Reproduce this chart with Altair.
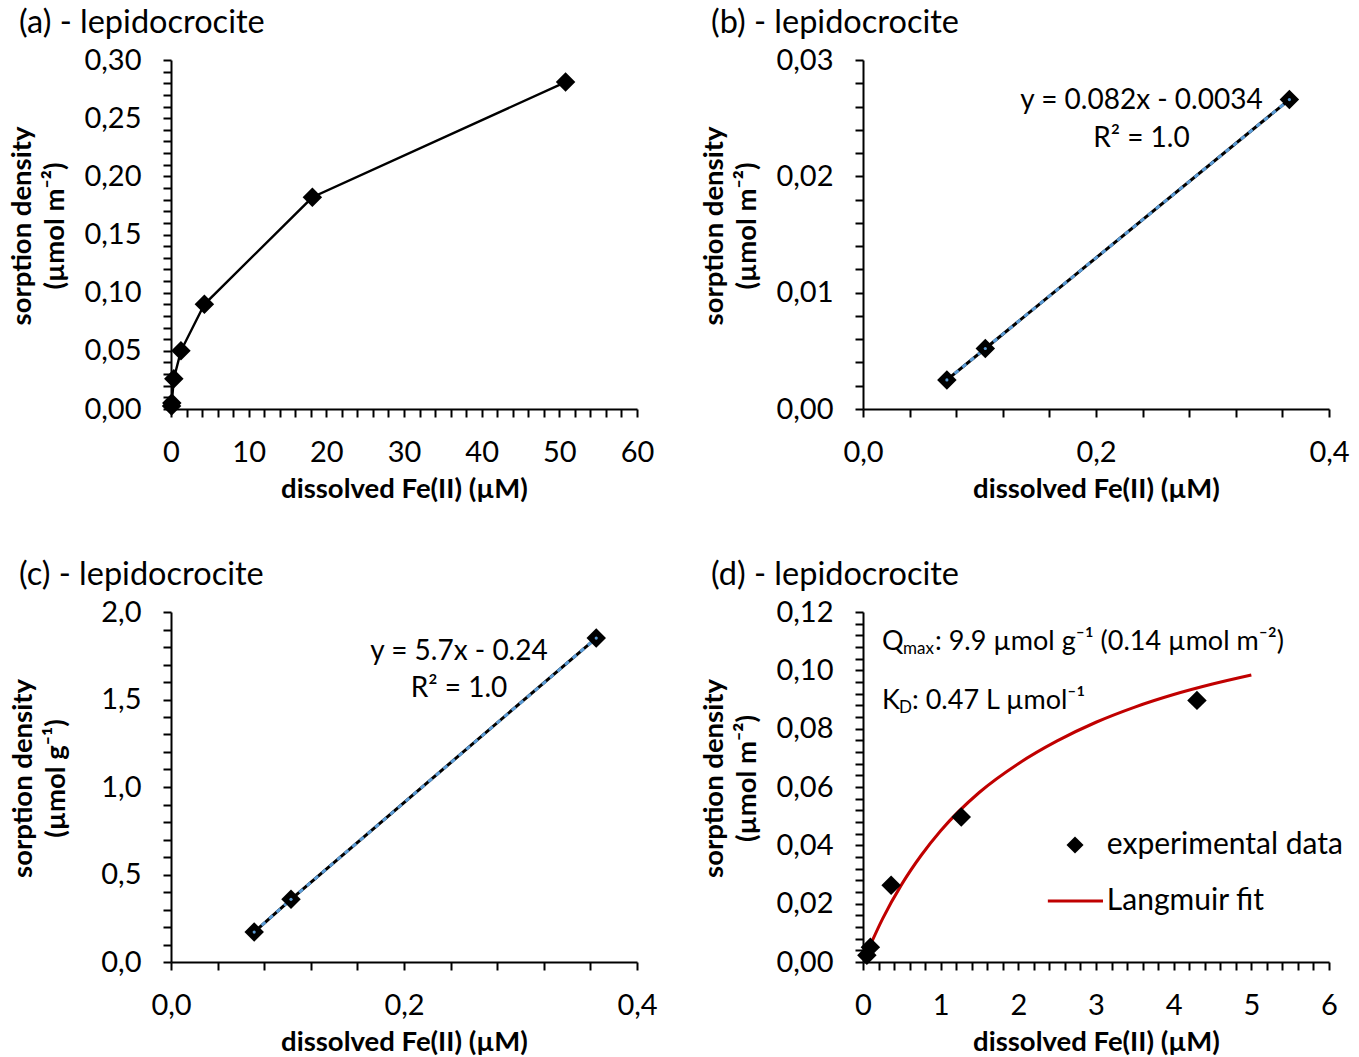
import altair as alt
import pandas as pd

FONT = "Lato"
BLUE = "#5B9BD5"
RED = "#C00000"

# ---------------- data ----------------
# (a) full isotherm, sorption density in umol m-2
a_fe = [0.072, 0.105, 0.36, 1.28, 4.3, 18.2, 50.8]
a_sd = [0.0025, 0.0052, 0.026, 0.050, 0.090, 0.182, 0.281]
# (b) low-concentration linear part, umol m-2
b_fe = [0.072, 0.105, 0.366]
b_sd = [0.0025, 0.0052, 0.0266]
# (c) low-concentration linear part, umol g-1
c_fe = [0.0714, 0.103, 0.365]
c_sd = [0.171, 0.358, 1.851]
# (d) experimental data and Langmuir fit
d_fe = [0.05, 0.095, 0.362, 1.265, 4.30]
d_sd = [0.0023, 0.0051, 0.0263, 0.0497, 0.0897]
fit_fe = [0.072, 0.25, 0.5, 0.75, 1.0, 1.5, 2.0, 2.5, 3.0, 3.5, 4.0, 4.5, 5.0]
fit_sd = [0.0045, 0.0147, 0.0267, 0.0366, 0.0450, 0.0582, 0.0680, 0.0758, 0.0822, 0.0874, 0.0917, 0.0953, 0.0984]

# panel titles and texts
panel_titles = ["(a) - lepidocrocite", "(b) - lepidocrocite", "(c) - lepidocrocite", "(d) - lepidocrocite"]
x_title = "dissolved Fe(II) (µM)"
y_title_m2 = ["sorption density", "(µmol m⁻²)"]
y_title_g = ["sorption density", "(µmol g⁻¹)"]

# regression annotations (text, x, y in data units)
b_eq = ["y = 0.082x - 0.0034", "R² = 1.0"]
b_eq_x = [0.239, 0.239]
b_eq_y = [0.02648, 0.0232]
c_eq = ["y = 5.7x - 0.24", "R² = 1.0"]
c_eq_x = [0.2472, 0.2472]
c_eq_y = [1.771, 1.56]

# Langmuir annotations
q_parts = ["Q", "max", ": 9.9 µmol g⁻¹ (0.14 µmol m⁻²)"]
k_parts = ["K", "D", ": 0.47 L µmol⁻¹"]
ann_x = 0.245
q_y = 0.1097
k_y = 0.0895

# legend of (d)
leg_labels = ["experimental data", "Langmuir fit"]
leg_sym_x = 2.73
leg_line_x = [2.38, 3.09]
leg_text_x = 3.14
leg_y = [0.0401, 0.0209]

# axis tick positions (major labelled, minor unlabelled)
a_xt = [i * 2 for i in range(31)]
a_yt = [round(i * 0.01, 3) for i in range(31)]
bc_xt = [round(i * 0.04, 3) for i in range(11)]
b_yt = [round(i * 0.002, 4) for i in range(16)]
c_yt = [round(i * 0.1, 2) for i in range(21)]
d_xt = [round(i * 0.2, 2) for i in range(31)]
d_yt = [round(i * 0.004, 4) for i in range(31)]

W, H1, H2 = 466, 349, 350


def lab_expr(major, fmt):
    return (f"abs(datum.value/{major} - round(datum.value/{major})) < 0.000001 ? "
            f"replace(format(datum.value, '{fmt}'), '.', ',') : ''")


AX = dict(grid=False, domainColor="black", domainWidth=2, tickColor="black", tickWidth=2,
          tickSize=8, labelFont=FONT, labelFontSize=29, labelColor="black", labelFlush=False,
          labelOverlap=False, labelBound=False, titleFont=FONT, titleFontSize=27.5,
          titleFontWeight="bold", titleColor="black")


def xaxis(values, major, fmt):
    return alt.Axis(values=values, labelExpr=lab_expr(major, fmt), title=x_title,
                    labelPadding=21, titlePadding=8, **AX)


def yaxis(values, major, fmt, title, h, tpad=14):
    return alt.Axis(values=values, labelExpr=lab_expr(major, fmt), title=title,
                    labelPadding=22, titlePadding=tpad, titleLineHeight=33,
                    titleY=h / 2 - 9, **AX)


def ptitle(t):
    return alt.TitleParams(text=t, anchor="start", frame="group", dx=-152, offset=-19,
                           font=FONT, fontSize=32.5, fontWeight="normal", color="black",
                           baseline="alphabetic")


def enc(xdom, ydom, xa, ya):
    return dict(x=alt.X("fe:Q", scale=alt.Scale(domain=xdom, nice=False, zero=False), axis=xa),
                y=alt.Y("sd:Q", scale=alt.Scale(domain=ydom, nice=False, zero=False), axis=ya))


DIAMOND = dict(shape="diamond", filled=True, size=380, color="black", opacity=1)

# ---------------- panel (a) ----------------
dfa = pd.DataFrame({"fe": a_fe, "sd": a_sd})
ea = enc([0, 60], [0, 0.30], xaxis(a_xt, 10, ".0f"), yaxis(a_yt, 0.05, ".2f", y_title_m2, H1))
pa = alt.Chart(dfa)
panel_a = alt.layer(
    pa.mark_line(color="black", strokeWidth=2.4).encode(**ea),
    pa.mark_point(**DIAMOND).encode(**ea),
).properties(width=W, height=H1, title=ptitle(panel_titles[0]))


# ---------------- panels (b), (c) ----------------
def linear_panel(fe, sd, ydom, yt, ymajor, yfmt, ytitle, eq, eqx, eqy, h, title, tpad):
    df = pd.DataFrame({"fe": fe, "sd": sd})
    e = enc([0, 0.4], ydom, xaxis(bc_xt, 0.2, ".1f"), yaxis(yt, ymajor, yfmt, ytitle, h, tpad))
    base = alt.Chart(df)
    dft = pd.DataFrame({"fe": eqx, "sd": eqy, "t": eq})
    return alt.layer(
        base.mark_line(color="black", strokeWidth=3).encode(**e),
        base.mark_line(color=BLUE, strokeWidth=3, strokeDash=[5, 5]).encode(**e),
        base.mark_point(**DIAMOND).encode(**e),
        base.mark_point(filled=True, size=10, color=BLUE, opacity=1).encode(**e),
        alt.Chart(dft).mark_text(font=FONT, fontSize=28, color="black", align="center",
                                 baseline="middle").encode(text="t:N", **e),
    ).properties(width=W, height=h, title=ptitle(title))


panel_b = linear_panel(b_fe, b_sd, [0, 0.03], b_yt, 0.01, ".2f", y_title_m2,
                       b_eq, b_eq_x, b_eq_y, H1, panel_titles[1], 14)
panel_c = linear_panel(c_fe, c_sd, [0, 2.0], c_yt, 0.5, ".1f", y_title_g,
                       c_eq, c_eq_x, c_eq_y, H2, panel_titles[2], 30)

# ---------------- panel (d) ----------------
dfd = pd.DataFrame({"fe": d_fe, "sd": d_sd})
dff = pd.DataFrame({"fe": fit_fe, "sd": fit_sd})
ed = enc([0, 6], [0, 0.12], xaxis(d_xt, 1, ".0f"), yaxis(d_yt, 0.02, ".2f", y_title_m2, H2))


def txt(t, x, y, size, dx, dy=0):
    return alt.Chart(pd.DataFrame({"fe": [x], "sd": [y], "t": [t]})).mark_text(
        font=FONT, fontSize=size, color="black", align="left", baseline="middle", dx=dx, dy=dy
    ).encode(text="t:N", **ed)


leg_pt = pd.DataFrame({"fe": [leg_sym_x], "sd": [leg_y[0]]})
leg_ln = pd.DataFrame({"fe": [leg_line_x[0]], "fe2": [leg_line_x[1]], "sd": [leg_y[1]]})

panel_d = alt.layer(
    alt.Chart(dff).mark_line(color=RED, strokeWidth=3, interpolate="monotone").encode(**ed),
    alt.Chart(dfd).mark_point(**DIAMOND).encode(**ed),
    txt(q_parts[0], ann_x, q_y, 27, 0),
    txt(q_parts[1], ann_x, q_y, 17, 21, 7),
    txt(q_parts[2], ann_x, q_y, 27, 53),
    txt(k_parts[0], ann_x, k_y, 27, 0),
    txt(k_parts[1], ann_x, k_y, 17, 17, 7),
    txt(k_parts[2], ann_x, k_y, 27, 30),
    alt.Chart(leg_pt).mark_point(shape="diamond", filled=True, size=290, color="black",
                                 opacity=1).encode(**ed),
    alt.Chart(leg_ln).mark_rule(color=RED, strokeWidth=3).encode(x2="fe2:Q", **ed),
    txt(leg_labels[0], leg_text_x, leg_y[0], 30, 0),
    txt(leg_labels[1], leg_text_x, leg_y[1], 30, 0),
).properties(width=W, height=H2, title=ptitle(panel_titles[3]))

chart = alt.concat(
    panel_a, panel_b, panel_c, panel_d,
    columns=2, spacing={"row": 203, "column": 226}, bounds="flush",
).properties(
    padding={"left": 8, "top": 6, "right": 5, "bottom": 5},
    background="white",
).configure_view(stroke=None)

chart.save("out.html", embed_options={"renderer": "svg", "actions": False})
